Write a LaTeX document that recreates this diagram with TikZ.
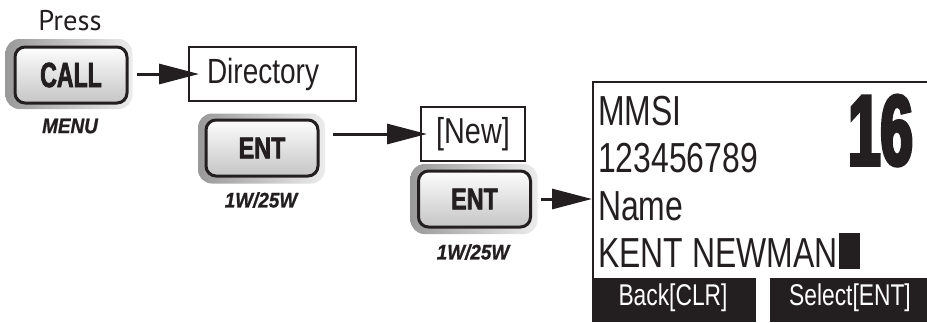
\documentclass[tikz,border=0pt]{standalone}
\usepackage{fontspec}
\setmainfont{Liberation Sans}
\newfontfamily\fpress{PT Sans}
\newfontfamily\fcond{Liberation Sans}[FakeStretch=0.76]
\newfontfamily\fdir{Liberation Sans}[FakeStretch=0.8]
\newfontfamily\fcall{Liberation Sans Bold}[FakeStretch=0.66, FakeBold=2]
\newfontfamily\fent{Liberation Sans Bold}[FakeStretch=0.78, FakeBold=2]
\newfontfamily\fbig{Liberation Sans Bold}[FakeStretch=0.58, FakeBold=3.5]
\newfontfamily\fital{Liberation Sans Bold Italic}[FakeStretch=0.9, FakeBold=1]
\usetikzlibrary{arrows.meta}
\definecolor{ink}{RGB}{35,31,32}
\begin{document}
\begin{tikzpicture}[x=1pt,y=-1pt,
  ring/.style={draw=none, rounded corners=14pt, left color=gray!80, right color=gray!15,
    minimum width=127pt, minimum height=70pt, inner sep=0pt},
  face/.style={draw=ink, line width=3pt, rounded corners=10pt, top color=gray!2, bottom color=gray!45,
    minimum width=112pt, minimum height=56pt, inner sep=0pt, text=ink},
  box/.style={draw=ink, line width=2pt, inner sep=0pt, minimum height=54pt, text=ink},
  arr/.style={draw=ink, line width=3pt, -{Triangle[length=40pt,width=20pt]}},
  captxt/.style={inner sep=0pt, text=ink, font=\fital\fontsize{21}{24}\selectfont},
  scrtxt/.style={anchor=base west, inner sep=0pt, text=ink, font=\fcond\fontsize{42}{44}\selectfont},
  bartxt/.style={anchor=base, inner sep=0pt, text=white, font=\fcond\fontsize{30}{32}\selectfont}
]
\useasboundingbox (0,0) rectangle (927,322);

% Press / CALL
\node[inner sep=0pt, text=ink, font=\fpress\fontsize{28.5}{30}\selectfont] (press) at (70,21) {Press};
\node[ring] (callr) at (69,74) {};
\node[face, font=\fcall\fontsize{35}{38}\selectfont] (call) at (71,75) {CALL};
\node[captxt] (menu) at (70,126) {MENU};

% Directory
\node[box, minimum width=167pt, text width=131pt, inner xsep=18pt, align=left,
  font=\fdir\fontsize{35}{38}\selectfont] (dir) at (272.5,74) {Directory};

% ENT 1
\node[ring] (ent1r) at (261.5,148.5) {};
\node[face, font=\fent\fontsize{30}{33}\selectfont] (ent1) at (262,148) {ENT};
\node[captxt] (w1) at (261,200) {1W/25W};

% [New]
\node[box, minimum width=104pt, font=\fdir\fontsize{36}{38}\selectfont] (new) at (473,134) {[New]};

% ENT 2
\node[ring] (ent2r) at (474,199) {};
\node[face, font=\fent\fontsize{30}{33}\selectfont] (ent2) at (474.5,199) {ENT};
\node[captxt] (w2) at (473,252) {1W/25W};

% screen
\node[draw=none, inner sep=0pt, minimum width=347pt, minimum height=196pt, anchor=north west] (scr) at (593,82) {};
\draw[ink, line width=2pt] (scr.north east) -- (scr.north west) -- (scr.south west);
\node[scrtxt] (mmsi) at (598,125) {MMSI};
\node[scrtxt] (num) at (598,172) {123456789};
\node[scrtxt] (name) at (598,220) {Name};
\node[scrtxt] (kent) at (598,267) {KENT NEWMAN};
\fill[ink] (839,233) rectangle (860,269);
\node[anchor=base east, inner sep=0pt, text=ink, font=\fbig\fontsize{100}{100}\selectfont] (ch) at (913,165) {16};
\fill[ink] (592,278) rectangle (756,322);
\fill[ink] (770,278) rectangle (927,322);
\node[bartxt] (back) at (673,305) {Back[CLR]};
\node[bartxt] (sel) at (850,305) {Select[ENT]};

% connectors
\draw[arr, shorten <=4pt, shorten >=-11pt] (callr.east) -- (callr.east -| dir.west);
\draw[arr, shorten <=8pt, shorten >=-7pt] (new.west -| ent1r.east) -- (new.west);
\draw[arr, shorten <=3pt, shorten >=1pt] (ent2r.east) -- (ent2r.east -| scr.west);
\end{tikzpicture}
\end{document}
